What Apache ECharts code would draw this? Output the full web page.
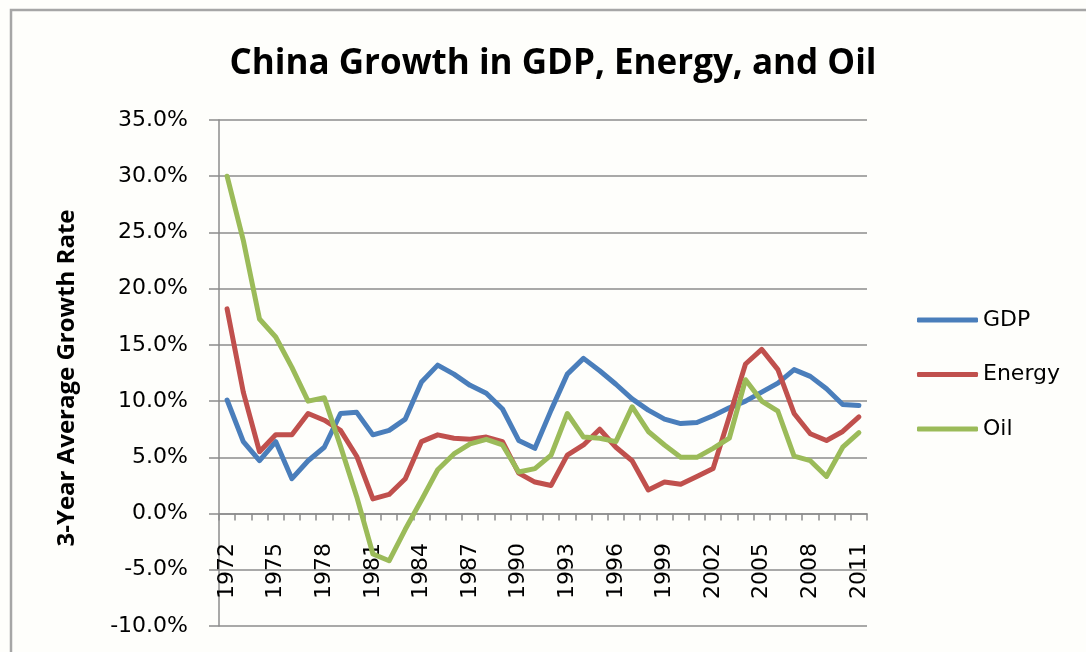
<!DOCTYPE html>
<html>
<head>
<meta charset="utf-8">
<script src="https://cdn.jsdelivr.net/npm/echarts@6/dist/echarts.min.js"></script>
<style>
  html, body { margin: 0; padding: 0; background: #fefefb; }
  #chart { width: 1086px; height: 652px; }
</style>
</head>
<body>
<div id="chart"></div>
<script>
// 3-year average growth rates (%), China, 1972-2011
const years = [
  '1972','1973','1974','1975','1976','1977','1978','1979','1980','1981',
  '1982','1983','1984','1985','1986','1987','1988','1989','1990','1991',
  '1992','1993','1994','1995','1996','1997','1998','1999','2000','2001',
  '2002','2003','2004','2005','2006','2007','2008','2009','2010','2011'
];
const gdp = [
  10.1, 6.4, 4.7, 6.4, 3.1, 4.7, 5.9, 8.9, 9.0, 7.0,
  7.4, 8.4, 11.7, 13.2, 12.4, 11.4, 10.7, 9.3, 6.5, 5.8,
  9.2, 12.4, 13.8, 12.7, 11.5, 10.2, 9.2, 8.4, 8.0, 8.1,
  8.7, 9.4, 10.0, 10.8, 11.6, 12.8, 12.2, 11.1, 9.7, 9.6
];
const energy = [
  18.2, 10.8, 5.5, 7.0, 7.0, 8.9, 8.3, 7.4, 5.1, 1.3,
  1.7, 3.1, 6.4, 7.0, 6.7, 6.6, 6.8, 6.4, 3.6, 2.8,
  2.5, 5.2, 6.1, 7.5, 5.9, 4.7, 2.1, 2.8, 2.6, 3.3,
  4.0, 8.6, 13.3, 14.6, 12.8, 8.9, 7.1, 6.5, 7.3, 8.6
];
const oil = [
  30.0, 24.3, 17.3, 15.7, 13.0, 10.0, 10.3, 6.0, 1.5, -3.6,
  -4.2, -1.4, 1.2, 3.9, 5.3, 6.2, 6.6, 6.1, 3.7, 4.0,
  5.2, 8.9, 6.8, 6.7, 6.4, 9.5, 7.3, 6.1, 5.0, 5.0,
  5.8, 6.7, 11.9, 10.0, 9.1, 5.1, 4.7, 3.3, 5.9, 7.2
];
const seriesNames = ['GDP', 'Energy', 'Oil'];
const seriesColors = ['#4a7ebb', '#c0504d', '#9bbb59'];

const labelFont = 'DejaVu Sans';
const gridColor = '#8c8c8c';

const chart = echarts.init(document.getElementById('chart'), null, { renderer: 'canvas' });

const lineSeries = [gdp, energy, oil].map((values, i) => ({
  name: seriesNames[i],
  type: 'line',
  data: values,
  symbol: 'none',
  smooth: false,
  lineStyle: { color: seriesColors[i], width: 5, join: 'round', cap: 'round' },
  itemStyle: { color: seriesColors[i] }
}));

chart.setOption({
  backgroundColor: '#fefefb',
  animation: false,
  title: {
    text: 'China Growth in GDP, Energy, and Oil',
    left: 548,
    top: 42,
    textAlign: 'center',
    textStyle: { fontFamily: 'Open Sans', fontWeight: 'bold', fontSize: 35, color: '#000' }
  },
  graphic: [{
    type: 'rect',
    shape: { x: 11, y: 10, width: 1200, height: 800 },
    style: { fill: 'none', stroke: '#a6a6a6', lineWidth: 2.5 },
    silent: true
  }],
  legend: {
    orient: 'vertical',
    left: 912,
    top: 304,
    itemWidth: 61,
    itemHeight: 5,
    itemGap: 32.5,
    icon: 'roundRect',
    data: seriesNames,
    textStyle: { fontFamily: labelFont, fontSize: 22, color: '#000' }
  },
  grid: { left: 219, right: 219, top: 120, bottom: 26, containLabel: false, outerBoundsMode: 'none' },
  xAxis: {
    type: 'category',
    data: years,
    boundaryGap: true,
    axisLine: { onZero: true, lineStyle: { color: gridColor, width: 1.5 } },
    axisTick: { show: true, interval: 0, length: 7, lineStyle: { color: gridColor, width: 1.5 } },
    // year labels sit just under the zero line
    axisLabel: { interval: 2, rotate: 90, margin: -83, fontFamily: labelFont, fontSize: 22, color: '#000' },
    splitLine: { show: false }
  },
  yAxis: {
    type: 'value',
    min: -10,
    max: 35,
    interval: 5,
    name: '3-Year Average Growth Rate',
    nameLocation: 'middle',
    nameGap: 140,
    nameTextStyle: { fontFamily: 'Open Sans', fontWeight: 'bold', fontSize: 24, color: '#000', padding: [0, 10, 0, 0] },
    axisLine: { show: true, lineStyle: { color: gridColor, width: 1.5 } },
    axisTick: { show: true, length: 10, lineStyle: { color: gridColor, width: 1.5 } },
    axisLabel: {
      margin: 31,
      fontFamily: labelFont,
      fontSize: 22,
      color: '#000',
      formatter: v => v.toFixed(1) + '%'
    },
    splitLine: { show: true, lineStyle: { color: gridColor, width: 1.5 } }
  },
  series: lineSeries
});
</script>
</body>
</html>
